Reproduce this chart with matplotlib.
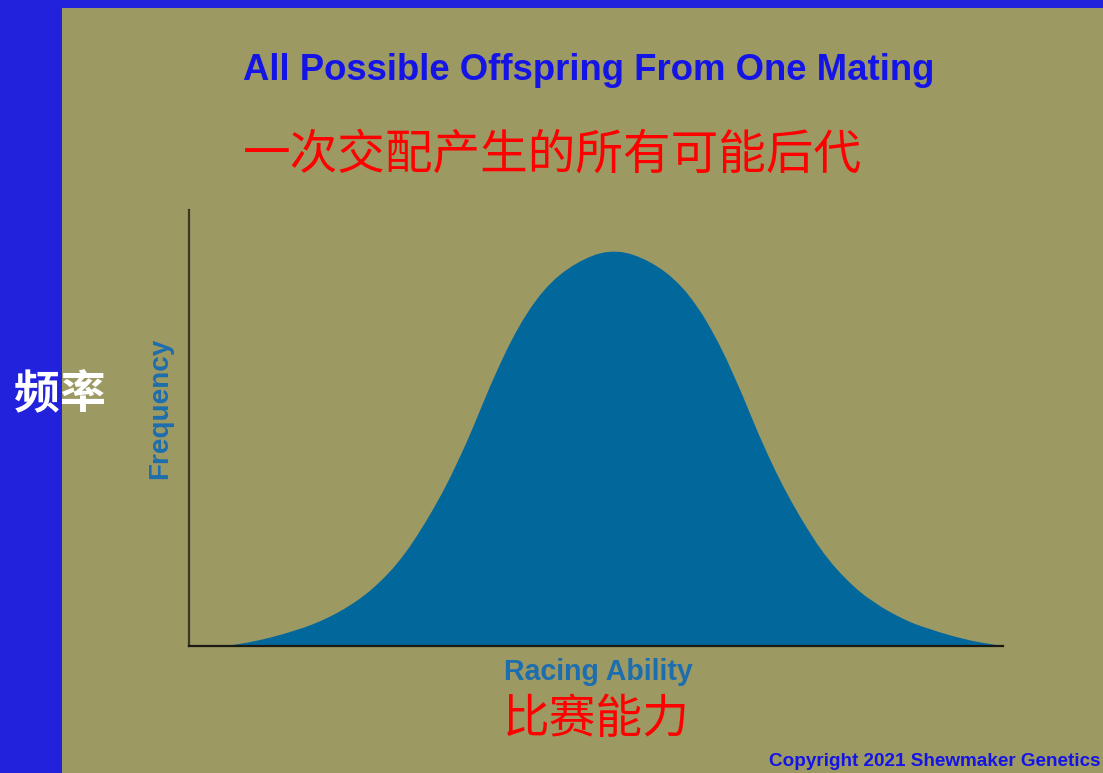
import matplotlib
matplotlib.use("Agg")
import matplotlib.pyplot as plt
from matplotlib.patches import Rectangle

# ---- data ----
ability = list(range(4, 101))
frequency = [0.0, 0.3, 0.6, 0.95, 1.35, 1.8, 2.3, 2.85, 3.45, 4.1,
             4.75, 5.5, 6.35, 7.3, 8.35, 9.5, 10.8, 12.2, 13.8, 15.6,
             17.6, 19.8, 22.3, 25.1, 28.2, 31.5, 35.0, 38.7, 42.7, 47.0,
             51.5, 56.3, 61.3, 66.2, 70.8, 75.2, 79.2, 82.8, 86.0, 88.8,
             91.2, 93.2, 94.9, 96.3, 97.5, 98.5, 99.3, 99.8, 100.0, 99.9,
             99.5, 98.8, 97.9, 96.8, 95.5, 93.9, 92.0, 89.8, 87.1, 84.1,
             80.6, 76.8, 72.6, 68.0, 63.3, 58.3, 53.4, 48.8, 44.4, 40.3,
             36.5, 32.9, 29.5, 26.3, 23.4, 20.8, 18.5, 16.4, 14.5, 12.8,
             11.4, 10.0, 8.8, 7.7, 6.7, 5.8, 5.05, 4.4, 3.7, 3.1,
             2.5, 2.0, 1.5, 1.1, 0.75, 0.4, 0.0]

title_en = "All Possible Offspring From One Mating"
title_cn = "一次交配产生的所有可能后代"
ylabel_en = "Frequency"
ylabel_cn = "频率"
xlabel_en = "Racing Ability"
xlabel_cn = "比赛能力"
copyright_txt = "Copyright 2021 Shewmaker Genetics"

W, H = 1103, 773
BG = "#9C9963"
BLUE_BORDER = "#2222DD"
FILL = "#02679B"
LABEL_BLUE = "#1D6EAE"
TITLE_BLUE = "#1414E6"

fig = plt.figure(figsize=(W / 100, H / 100), dpi=100)
fig.patch.set_facecolor(BG)

# blue frame strips
fig.add_artist(Rectangle((0, 0), 62 / W, 1, transform=fig.transFigure,
                         facecolor=BLUE_BORDER, edgecolor="none", zorder=0))
fig.add_artist(Rectangle((0, 1 - 8 / H), 1, 8 / H, transform=fig.transFigure,
                         facecolor=BLUE_BORDER, edgecolor="none", zorder=0))

ax = fig.add_axes([189 / W, (H - 646) / H, (1003 - 189) / W, (646 - 210) / H])
ax.set_facecolor("none")
ax.fill_between(ability, frequency, 0, color=FILL, linewidth=0)
ax.set_xlim(0, 100)
ax.set_ylim(0, 110.4)
ax.set_xticks([])
ax.set_yticks([])
for s in ["top", "right"]:
    ax.spines[s].set_visible(False)
ax.spines["left"].set_color("#3A3822")
ax.spines["bottom"].set_color("#1A1A14")
ax.spines["left"].set_linewidth(1.6)
ax.spines["bottom"].set_linewidth(1.6)

def px(x, y):
    return x / W, 1 - y / H

fig.canvas.draw()
renderer = fig.canvas.get_renderer()

def fit(t, target_w):
    bb = t.get_window_extent(renderer)
    w = bb.width if t.get_rotation() == 0 else bb.height
    t.set_fontsize(t.get_fontsize() * target_w / w)

sans = ["Liberation Sans", "DejaVu Sans"]
cjk = ["Noto Sans CJK SC", "DejaVu Sans"]

t1 = fig.text(*px(589, 71), title_en, color=TITLE_BLUE, fontsize=30, fontweight="bold",
              family=sans, ha="center", va="center")
fit(t1, 692)
t2 = fig.text(*px(552, 155), title_cn, color="#FF0000", fontsize=33, family=cjk,
              fontweight="medium", ha="center", va="center")
fit(t2, 619)
t3 = fig.text(*px(160, 408), ylabel_en, color=LABEL_BLUE, fontsize=19, fontweight="bold",
              family=sans, rotation=90, ha="center", va="center")
fit(t3, 141)
t4 = fig.text(*px(60, 394), ylabel_cn, color="white", fontsize=33, fontweight="bold",
              family=cjk, ha="center", va="center")
fit(t4, 92)
t5 = fig.text(*px(598, 672), xlabel_en, color=LABEL_BLUE, fontsize=19, fontweight="bold",
              family=sans, ha="center", va="center")
fit(t5, 189)
t6 = fig.text(*px(596, 720), xlabel_cn, color="#FF0000", fontsize=33, family=cjk,
              fontweight="medium", ha="center", va="center")
fit(t6, 187)
t7 = fig.text(*px(935, 762), copyright_txt, color=TITLE_BLUE, fontsize=13, fontweight="bold",
              family=sans, ha="center", va="center")
fit(t7, 331)

fig.savefig("out.png", dpi=100, facecolor=BG)
